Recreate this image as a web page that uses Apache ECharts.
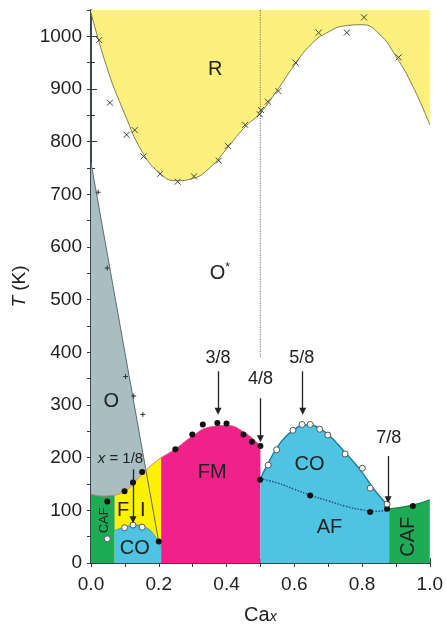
<!DOCTYPE html>
<html><head><meta charset="utf-8">
<script src="https://cdn.jsdelivr.net/npm/echarts@6/dist/echarts.min.js"></script>
<style>html,body{margin:0;padding:0;background:#fff}#c{width:446px;height:630px}</style>
</head><body><div id="c"></div>
<script>
// ---- data ----
const xTicks = [0, 0.2, 0.4, 0.6, 0.8, 1.0];
const yTicks = [0,100,200,300,400,500,600,700,800,900,1000];
const rBoundary = [[0,1045],[0.05,935],[0.1,852],[0.15,782],[0.2,742],[0.25,726],[0.3,730],[0.35,750],[0.4,786],[0.45,825],[0.5,855],[0.55,898],[0.6,945],[0.65,985],[0.7,1008],[0.75,1020],[0.8,1022],[0.85,1005],[0.9,962],[0.95,905],[1.0,832]];
const oLine = [[0,760],[0.2,40]];
const cafLeftTop = [[0,131],[0.035,127],[0.07,129]];
const fiTop = [[0.07,129],[0.105,138],[0.14,161],[0.175,184],[0.207,200]];
const coLeftTop = [[0.07,62],[0.1,68],[0.13,72],[0.16,68],[0.19,50],[0.207,30]];
const fmTop = [[0.207,200],[0.25,217],[0.3,241],[0.35,258],[0.4,261],[0.45,249],[0.5,222]];
const coRightTop = [[0.5,160],[0.525,192],[0.55,220],[0.575,240],[0.6,253],[0.625,262],[0.65,262],[0.675,255],[0.7,244],[0.725,228],[0.75,210],[0.775,192],[0.8,172],[0.825,149],[0.85,128],[0.88,107]];
const cafRightTop = [[0.88,103],[0.95,110],[1.0,120]];
const afLine = [[0.5,160],[0.55,152],[0.6,140],[0.65,128],[0.7,118],[0.75,108],[0.8,101],[0.84,98],[0.88,101]];
const halfLine = [[0.5,1050],[0.5,390]];
const crossPts = [[0.024,993],[0.056,874],[0.105,813],[0.129,822],[0.155,772],[0.204,739],[0.256,724],[0.304,734],[0.377,764],[0.404,792],[0.455,832],[0.498,852],[0.502,860],[0.522,876],[0.553,896],[0.604,950],[0.672,1007],[0.755,1007],[0.806,1036],[0.908,960]];
const plusPts = [[0.021,704],[0.048,560],[0.102,354],[0.126,317],[0.153,282]];
const filledPts = [[0.048,117],[0.099,136],[0.124,153],[0.151,173],[0.2,41],[0.249,216],[0.299,244],[0.33,263],[0.373,266],[0.4,265],[0.45,244],[0.475,230],[0.5,222],[0.499,158],[0.647,128],[0.824,97],[0.874,103],[0.95,108]];
const openPts = [[0.048,46],[0.099,67],[0.124,72],[0.151,68],[0.523,186],[0.548,215],[0.596,252],[0.623,263],[0.647,263],[0.675,254],[0.699,243],[0.75,207],[0.801,180],[0.824,142],[0.874,112]];
const arrows = [[[0.375,364],[0.375,288]],[[0.5,313],[0.5,236]],[[0.625,364],[0.625,288]],[[0.877,203],[0.877,120]],[[0.124,178],[0.124,82]]];
const labels = [
  {t:'R', p:[0.367,937], s:20},
  {t:'{a|O}{s|*}', p:[0.38,549], s:20},
  {t:'O', p:[0.06,307], s:20},
  {t:'F', p:[0.095,100], s:20},
  {t:'I', p:[0.153,100], s:20},
  {t:'CO', p:[0.129,28], s:20},
  {t:'CAF', p:[0.041,81], s:13, r:90},
  {t:'FM', p:[0.358,172], s:20},
  {t:'CO', p:[0.645,188], s:20},
  {t:'AF', p:[0.704,68], s:20},
  {t:'CAF', p:[0.938,50], s:20, r:90},
  {t:'3/8', p:[0.375,389], s:18},
  {t:'4/8', p:[0.5,349], s:18},
  {t:'5/8', p:[0.622,389], s:18},
  {t:'7/8', p:[0.879,238], s:18},
  {t:'{i|x} = 1/8', p:[0.087,197], s:15}
];
// ---- chart ----
const FONT = 'Liberation Sans, Arial, sans-serif';
const frame = {show:true, lineStyle:{color:'#2f3d3d', width:1.5}};
function area(data, fill, line, lw, origin){
  return {type:'line', z:2, data:data, smooth:0.5, showSymbol:false, silent:true,
    lineStyle:{color:line, width:lw}, areaStyle:{color:fill, opacity:1, origin:origin||'start'}};
}
function line(data, color, w, type, smooth){
  return {type:'line', z:3, data:data, smooth:smooth?0.5:false, showSymbol:false, silent:true,
    lineStyle:{color:color, width:w, type:type||'solid'}};
}
const chart = echarts.init(document.getElementById('c'));
chart.setOption({
  animation:false,
  textStyle:{fontFamily:FONT},
  grid:{left:91, right:13, top:10, bottom:62},
  xAxis:[{type:'value', min:0, max:1, interval:0.2, position:'bottom',
    axisLine:frame, splitLine:{show:false},
    axisTick:{inside:true, length:5, lineStyle:{color:'#2f3d3d'}},
    minorTick:{show:true, splitNumber:2, length:4, lineStyle:{color:'#2f3d3d'}},
    axisLabel:{fontSize:19, color:'#222', margin:12, fontFamily:FONT, formatter:v=>v.toFixed(1)},
    name:'{n|Ca}{s|x}', nameLocation:'middle', nameGap:42,
    nameTextStyle:{rich:{n:{fontSize:20, color:'#222', fontFamily:FONT, padding:[0,0,5,0]}, s:{fontSize:14, fontStyle:'italic', color:'#222', fontFamily:FONT}}}},
   {type:'value', min:0, max:1, interval:0.1, position:'top', axisLine:frame, splitLine:{show:false},
    axisTick:{inside:true, length:4, lineStyle:{color:'#2f3d3d'}}, axisLabel:{show:false}}],
  yAxis:[{type:'value', min:0, max:1050, interval:100, position:'left',
    axisLine:frame, splitLine:{show:false},
    axisTick:{inside:true, length:6, lineStyle:{color:'#2f3d3d'}},
    minorTick:{show:true, splitNumber:2, length:4, lineStyle:{color:'#2f3d3d'}},
    axisLabel:{fontSize:19, color:'#222', margin:9, fontFamily:FONT, formatter:v=> yTicks.indexOf(v)>=0 ? String(v) : ''},
    name:'{i|T} (K)', nameLocation:'middle', nameGap:49, nameRotate:90,
    nameTextStyle:{fontSize:19, color:'#222', fontFamily:FONT, rich:{i:{fontSize:19, fontStyle:'italic', color:'#222', fontFamily:FONT}}}},
   {type:'value', min:0, max:1050, interval:50, position:'right', axisLine:frame, splitLine:{show:false},
    axisTick:{inside:true, length:4, lineStyle:{color:'#2f3d3d'}}, axisLabel:{show:false}}],
  series:[
    area(rBoundary, '#fdf07c', '#7d7d55', 1, 'end'),
    area(oLine, '#a8bec2', '#5d6b70', 0),
    area(cafLeftTop, '#1eab55', '#c47a7a', 1),
    area(fiTop, '#fff100', '#d88080', 1),
    area(coLeftTop, '#4fc4e2', '#3a9bc0', 1),
    area(fmTop, '#f0228a', '#d85a7a', 1),
    area(coRightTop, '#4fc4e2', '#1f7f9f', 1.5),
    area(cafRightTop, '#1eab55', '#17803f', 1.2),
    line(oLine, '#5d6b70', 1),
    line(afLine, '#2a4a7a', 1.5, 'dotted', true),
    line(halfLine, '#8a8a8a', 1.2, 'dotted'),
    {type:'scatter', z:5, data:crossPts, symbol:'path://M0,0L10,10M10,0L0,10', symbolSize:6, silent:true,
      itemStyle:{color:'rgba(0,0,0,0)', borderColor:'#444', borderWidth:1, opacity:1}},
    {type:'scatter', z:5, data:plusPts, symbol:'path://M5,0L5,10M0,5L10,5', symbolSize:5, silent:true,
      itemStyle:{color:'rgba(0,0,0,0)', borderColor:'#333', borderWidth:1, opacity:1}},
    {type:'scatter', z:5, data:filledPts, symbol:'circle', symbolSize:6, silent:true,
      itemStyle:{color:'#111', borderColor:'#111', borderWidth:0, opacity:1}},
    {type:'scatter', z:5, data:openPts, symbol:'circle', symbolSize:6, silent:true,
      itemStyle:{color:'#fff', borderColor:'#555', borderWidth:1, opacity:1}},
    {type:'lines', z:6, coordinateSystem:'cartesian2d', silent:true, symbol:['none','triangle'], symbolSize:[0,7],
      lineStyle:{color:'#222', width:1.3, opacity:1},
      data:arrows.map(a=>({coords:a}))},
    {type:'scatter', symbolSize:0, silent:true, z:10, itemStyle:{opacity:1},
      data:labels.map(l=>({value:l.p, label:{show:true, position:'inside', formatter:l.t, fontSize:l.s, rotate:l.r||0,
        color:'#222', fontFamily:FONT,
        rich:{a:{fontSize:20, color:'#222', fontFamily:FONT}, s:{fontSize:12, color:'#222', fontFamily:FONT, padding:[0,0,12,0]},
              i:{fontSize:l.s, fontStyle:'italic', color:'#222', fontFamily:FONT}}}}))}
  ]
});
</script></body></html>
